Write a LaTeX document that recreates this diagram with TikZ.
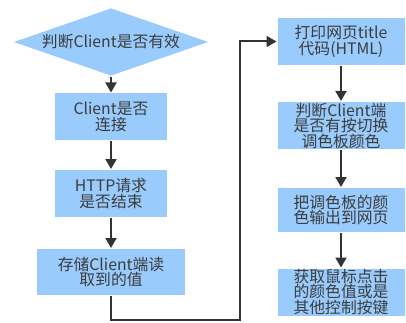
\documentclass[tikz,border=0pt]{standalone}
\usepackage{fontspec}
\newfontfamily\cjk{Noto Sans CJK SC}
\usetikzlibrary{arrows.meta,shapes.geometric}
\definecolor{cajaazul}{RGB}{153,203,252}
\definecolor{gristexto}{RGB}{60,60,60}
\definecolor{grisflecha}{RGB}{51,51,51}
\begin{document}
\begin{tikzpicture}[   % opciones por defecto
  x=1pt, y=-1pt,     % unidades en pt, eje y hacia abajo
  line width=2pt,    % grosor de las conexiones
  -{Triangle[width=11pt,length=10pt]}, % estilo de flecha al final
  color=grisflecha,  % linea gris oscuro
  font=\cjk\fontsize{15.8}{15.5}\selectfont
]
  \tikzstyle{paso}=[fill=cajaazul, text=gristexto, align=center, inner sep=0pt, minimum height=47pt];
  \tikzstyle{decision}=[paso, diamond, aspect=2.87, minimum width=195pt, minimum height=68pt];
  %
  \useasboundingbox (0,0) rectangle (406,323);
  %
  % columna izquierda
  \node [decision] (valido) at (111,42) {判断Client是否有效};
  \node [paso, minimum width=112pt] (conexion) at (111,117) {Client是否\\连接};
  \node [paso, minimum width=112pt] (http) at (111,193.5) {HTTP请求\\是否结束};
  \node [paso, minimum width=148pt, minimum height=46pt] (guardar) at (111,272) {存储Client端读\\取到的值};
  %
  % columna derecha
  \node [paso, minimum width=127pt] (titulo) at (341,41.5) {打印网页title\\代码(HTML)};
  \node [paso, minimum width=127pt] (cambio) at (341,125.5) {判断Client端\\是否有按切换\\调色板颜色};
  \node [paso, minimum width=127pt, minimum height=44pt] (paleta) at (341,210) {把调色板的颜\\色输出到网页};
  \node [paso, minimum width=127pt] (raton) at (341,292) {获取鼠标点击\\的颜色值或是\\其他控制按键};
  %
  % conexiones entre pasos
  \foreach \a/\b in {valido/conexion, conexion/http, http/guardar,
                     titulo/cambio, cambio/paleta, paleta/raton} {
    \path (\a) edge (\b);
  }
  %
  % retorno a la columna derecha
  \coordinate (esquina) at (240,320);
  \draw (guardar.south) |- (esquina) |- (titulo.west);
\end{tikzpicture}
\end{document}
